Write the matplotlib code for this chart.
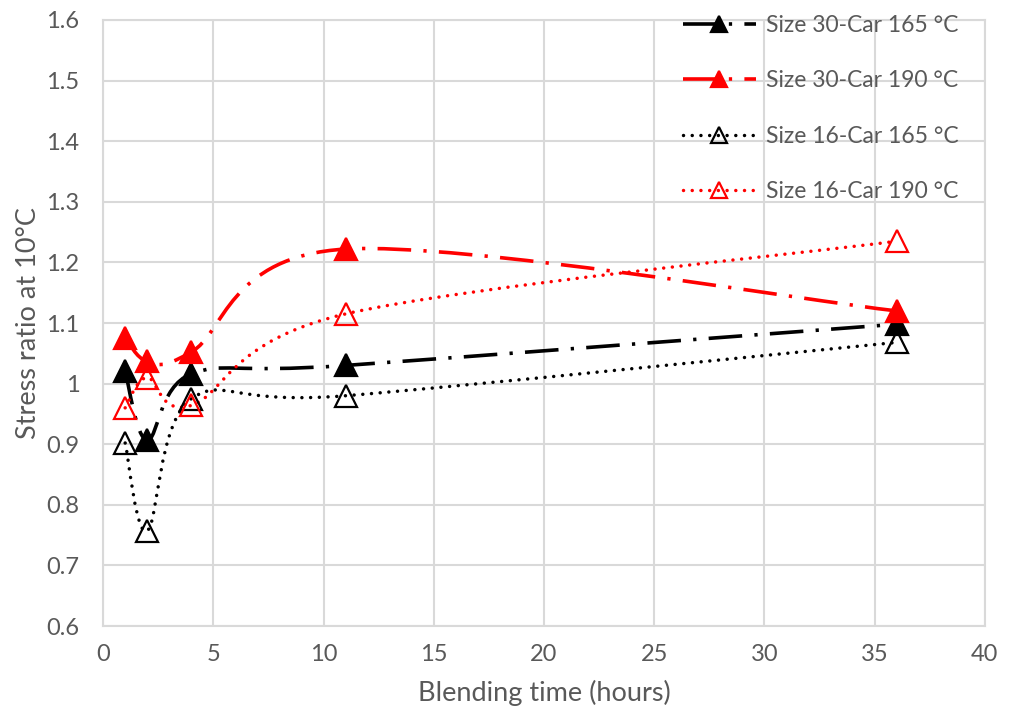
import numpy as np
import matplotlib.pyplot as plt
from matplotlib.path import Path
from matplotlib.patches import PathPatch
from matplotlib.lines import Line2D

plt.rcParams['font.family'] = ['Lato', 'DejaVu Sans']

# data
hours = [1, 2, 4, 11, 36]
s30_165 = [1.02, 0.907, 1.016, 1.03, 1.098]
s30_190 = [1.076, 1.037, 1.052, 1.222, 1.12]
s16_165 = [0.902, 0.757, 0.975, 0.98, 1.068]
s16_190 = [0.96, 1.01, 0.964, 1.115, 1.235]

labels = ["Size 30-Car 165 °C", "Size 30-Car 190 °C",
          "Size 16-Car 165 °C", "Size 16-Car 190 °C"]
xticks = [0, 5, 10, 15, 20, 25, 30, 35, 40]
yticks = [0.6, 0.7, 0.8, 0.9, 1.0, 1.1, 1.2, 1.3, 1.4, 1.5, 1.6]

grey = '#595959'
grid = '#d9d9d9'
dashdot = (0, (9.3, 3.4, 0.9, 3.4))
dotted = (0, (0.01, 2.5))


def smooth_path(x, y):
    # Excel-style smoothed line: Catmull-Rom as cubic bezier segments
    pts = np.column_stack([x, y]).astype(float)
    ext = np.vstack([pts[0], pts, pts[-1]])
    verts = [pts[0]]
    codes = [Path.MOVETO]
    for i in range(1, len(ext) - 2):
        p0, p1, p2, p3 = ext[i - 1], ext[i], ext[i + 1], ext[i + 2]
        c1 = p1 + (p2 - p0) / 6
        c2 = p2 - (p3 - p1) / 6
        verts += [c1, c2, p2]
        codes += [Path.CURVE4] * 3
    return Path(verts, codes)


fig = plt.figure(figsize=(10.11, 7.19), dpi=100)
ax = fig.add_axes([0.102, 0.1293, 0.872, 0.8429])

series = [
    (s30_165, 'black', dashdot, 2.6, 'black'),
    (s30_190, 'red', dashdot, 2.6, 'red'),
    (s16_165, 'black', dotted, 2.5, 'none'),
    (s16_190, 'red', dotted, 2.5, 'none'),
]

handles = []
for (vals, col, ls, lw, face), lab in zip(series, labels):
    cap = 'butt' if ls == dashdot else 'round'
    patch = PathPatch(smooth_path(hours, vals), facecolor='none', edgecolor=col,
                      linewidth=lw, linestyle=ls, capstyle=cap, zorder=3)
    ax.add_patch(patch)
    ax.plot(hours, vals, linestyle='none', marker='^', markersize=16,
            markerfacecolor=face, markeredgecolor=col, markeredgewidth=1.6, zorder=4)
    h = Line2D([], [], color=col, linestyle=ls, linewidth=lw, marker='^', markersize=12,
               markerfacecolor=face, markeredgecolor=col, markeredgewidth=1.6,
               dash_capstyle=cap)
    handles.append(h)

ax.set_xlim(0, 40)
ax.set_ylim(0.6, 1.6)
ax.set_xticks(xticks)
ax.set_yticks(yticks)
ax.set_yticklabels(['{:g}'.format(v) for v in yticks])
ax.grid(True, color=grid, linewidth=1.5, zorder=0)
ax.set_axisbelow(True)
for sp in ax.spines.values():
    sp.set_color(grid)
    sp.set_linewidth(1.5)
ax.tick_params(length=0, labelsize=17, colors=grey)
ax.tick_params(axis='y', pad=17)
ax.tick_params(axis='x', pad=13)

ax.set_xlabel("Blending time (hours)", fontsize=19.5, color=grey, labelpad=11)
ax.set_ylabel("Stress ratio at 10°C", fontsize=19.5, color=grey, labelpad=4)

leg = fig.legend(handles=handles, labels=labels, loc='upper left',
                 bbox_to_anchor=(0.664, 0.995), frameon=False, fontsize=16.5,
                 handlelength=3.2, labelspacing=1.5, handletextpad=0.45,
                 borderpad=0)
for t in leg.get_texts():
    t.set_color(grey)

fig.savefig('out.png', dpi=100)
